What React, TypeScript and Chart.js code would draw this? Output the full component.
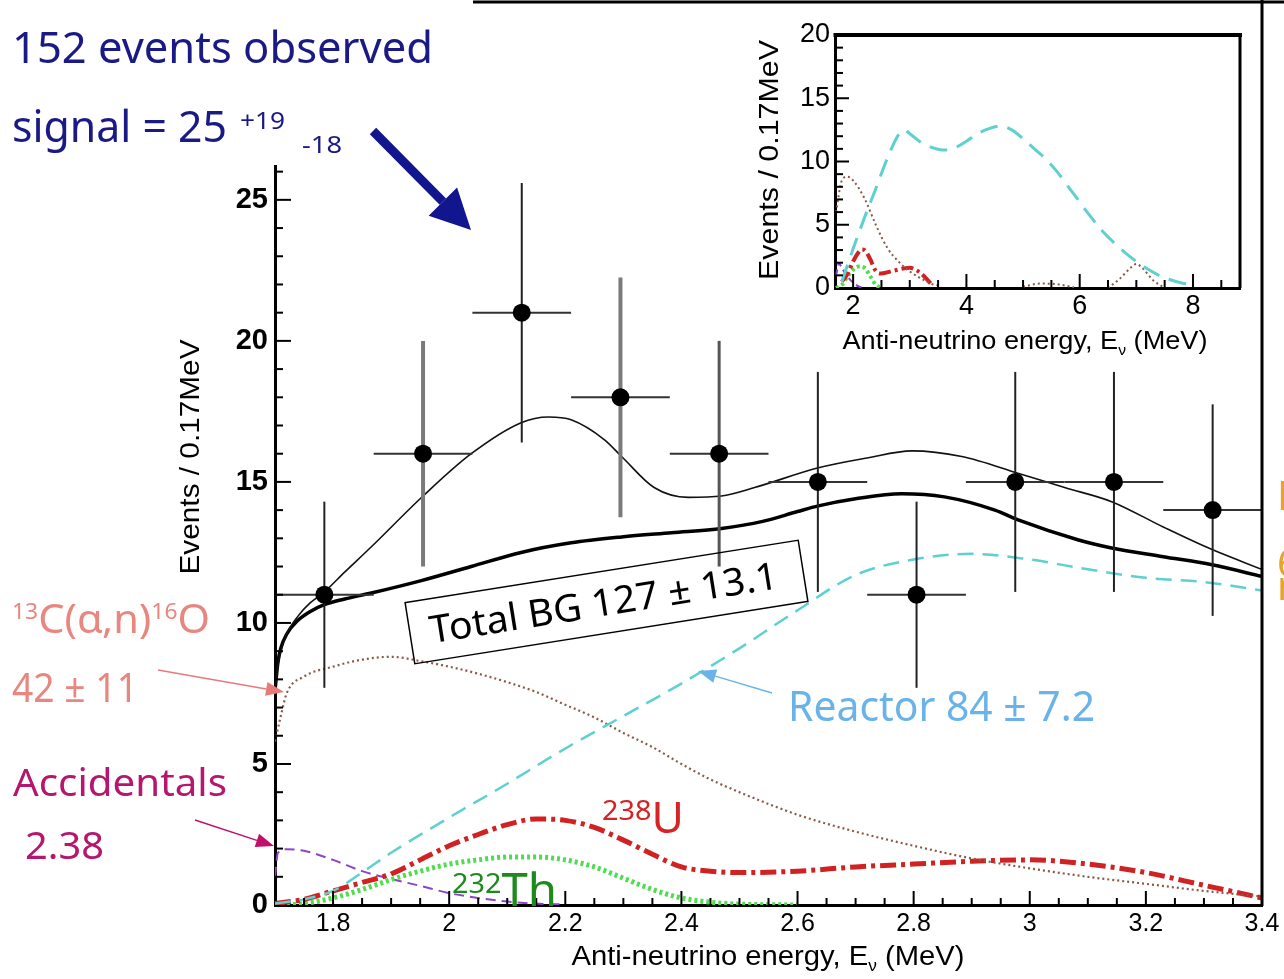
import React, { useEffect, useRef } from "react";
import { Chart, registerables } from "chart.js";
Chart.register(...registerables);

// ---------------- main panel data ----------------
const binCenters = [1.785, 1.955, 2.125, 2.295, 2.465, 2.635, 2.805, 2.975, 3.145, 3.315];
const observed = [11, 16, 21, 18, 16, 15, 11, 15, 15, 14];
const observedErr = [3.3, 4.0, 4.6, 4.25, 4.0, 3.9, 3.3, 3.9, 3.9, 3.75];
const binHalfWidth = 0.085;
const errBarColors = ["#222", "#7a7a7a", "#222", "#7a7a7a", "#555", "#222", "#222", "#222", "#222", "#222"];
const errBarWidths = [2, 4, 2, 4, 3, 2, 2, 2, 2, 2];

const totalX = [1.7, 1.705, 1.71, 1.72, 1.74, 1.76, 1.785, 1.82, 1.866, 1.955, 2.038, 2.124, 2.171, 2.21, 2.267, 2.297, 2.353, 2.412, 2.469, 2.526, 2.636, 2.72, 2.797, 2.883, 2.981, 3.06, 3.141, 3.23, 3.314, 3.4];
const totalY = [7.6, 8.5, 9.0, 9.6, 10.25, 10.7, 11.1, 11.8, 12.7, 14.5, 16.0, 17.1, 17.3, 17.2, 16.5, 15.9, 14.8, 14.45, 14.5, 14.8, 15.5, 15.85, 16.1, 15.9, 15.3, 14.8, 14.3, 13.4, 12.6, 11.9];

const bgX = [1.7, 1.705, 1.71, 1.72, 1.74, 1.76, 1.785, 1.82, 1.866, 1.952, 2.038, 2.124, 2.21, 2.297, 2.383, 2.469, 2.54, 2.6, 2.636, 2.7, 2.779, 2.853, 2.94, 2.98, 3.084, 3.141, 3.23, 3.314, 3.4];
const bgY = [7.6, 8.6, 9.1, 9.6, 10.1, 10.4, 10.65, 10.85, 11.06, 11.5, 12.0, 12.5, 12.84, 13.05, 13.2, 13.35, 13.6, 13.95, 14.15, 14.4, 14.58, 14.47, 14.0, 13.65, 12.94, 12.66, 12.35, 12.06, 11.65];

const reactorX = [1.7, 1.75, 1.8, 1.85, 1.9, 2.0, 2.1, 2.2, 2.3, 2.4, 2.5, 2.6, 2.7, 2.8, 2.9, 3.0, 3.1, 3.2, 3.3, 3.4];
const reactorY = [0.05, 0.2, 0.5, 1.15, 1.85, 3.1, 4.3, 5.55, 6.7, 7.85, 9.1, 10.45, 11.7, 12.25, 12.45, 12.25, 11.9, 11.6, 11.45, 11.15];

const c13X = [1.7, 1.71, 1.72, 1.75, 1.8, 1.85, 1.9, 1.95, 2.0, 2.05, 2.1, 2.15, 2.2, 2.25, 2.3, 2.35, 2.4, 2.45, 2.5, 2.6, 2.7, 2.8, 2.9, 3.0, 3.1, 3.2, 3.3, 3.4];
const c13Y = [5.8, 6.7, 7.5, 8.1, 8.45, 8.7, 8.8, 8.65, 8.45, 8.2, 7.9, 7.55, 7.1, 6.65, 6.1, 5.6, 5.0, 4.45, 4.0, 3.2, 2.6, 2.1, 1.65, 1.3, 1.0, 0.75, 0.5, 0.3];

const u238X = [1.7, 1.75, 1.8, 1.85, 1.9, 1.95, 2.0, 2.05, 2.1, 2.15, 2.2, 2.25, 2.3, 2.35, 2.4, 2.45, 2.5, 2.6, 2.7, 2.8, 2.9, 3.0, 3.1, 3.2, 3.3, 3.4];
const u238Y = [0.05, 0.2, 0.5, 0.8, 1.1, 1.6, 2.1, 2.5, 2.85, 3.05, 3.0, 2.75, 2.3, 1.8, 1.35, 1.2, 1.15, 1.2, 1.35, 1.45, 1.55, 1.6, 1.45, 1.15, 0.7, 0.25];

const th232X = [1.7, 1.75, 1.8, 1.85, 1.9, 1.95, 2.0, 2.05, 2.1, 2.15, 2.2, 2.25, 2.3, 2.35, 2.4, 2.45, 2.5, 2.6];
const th232Y = [0.0, 0.05, 0.25, 0.55, 0.9, 1.2, 1.45, 1.6, 1.7, 1.7, 1.6, 1.35, 0.95, 0.55, 0.25, 0.1, 0.03, 0.0];

const accX = [1.7, 1.705, 1.72, 1.75, 1.8, 1.85, 1.9, 1.95, 2.0, 2.05, 2.1, 2.15, 2.2];
const accY = [1.0, 1.85, 1.98, 1.92, 1.6, 1.2, 0.92, 0.68, 0.42, 0.25, 0.12, 0.05, 0.02];

const xTickValues = [1.8, 2, 2.2, 2.4, 2.6, 2.8, 3, 3.2, 3.4];
const xTickLabels = ["1.8", "2", "2.2", "2.4", "2.6", "2.8", "3", "3.2", "3.4"];
const yTickValues = [0, 5, 10, 15, 20, 25];
const yTickLabels = ["0", "5", "10", "15", "20", "25"];

// ---------------- inset data ----------------
const insetReactorX = [1.8, 1.9, 2.0, 2.2, 2.4, 2.6, 2.8, 2.9, 3.0, 3.2, 3.4, 3.6, 3.8, 4.0, 4.2, 4.4, 4.6, 4.8, 5.0, 5.2, 5.4, 5.6, 5.8, 6.0, 6.2, 6.4, 6.6, 6.8, 7.0, 7.2, 7.4, 7.6, 7.8, 8.0];
const insetReactorY = [0.5, 1.8, 3.1, 5.55, 7.85, 10.2, 12.1, 12.5, 12.2, 11.5, 11.1, 10.9, 11.1, 11.6, 12.2, 12.6, 12.8, 12.5, 11.8, 11.0, 10.2, 9.2, 8.0, 6.8, 5.6, 4.5, 3.6, 2.8, 2.1, 1.5, 1.0, 0.65, 0.4, 0.25];
const insetC13X = [1.7, 1.8, 1.9, 2.0, 2.2, 2.4, 2.6, 2.8, 3.0, 3.2, 3.4, 3.5];
const insetC13Y = [6.0, 8.5, 8.8, 8.5, 7.1, 5.0, 3.2, 2.1, 1.3, 0.75, 0.3, 0.2];
const insetC13BumpAX = [5.0, 5.3, 5.6, 5.9];
const insetC13BumpAY = [0.1, 0.35, 0.3, 0.05];
const insetC13BumpBX = [6.5, 6.7, 6.9, 7.0, 7.1, 7.3, 7.5];
const insetC13BumpBY = [0.0, 0.7, 1.6, 1.9, 1.6, 0.6, 0.0];
const insetU238X = [1.8, 1.9, 2.0, 2.1, 2.15, 2.2, 2.3, 2.4, 2.5, 2.7, 2.9, 3.0, 3.1, 3.2, 3.3, 3.4];
const insetU238Y = [0.5, 1.1, 2.1, 2.85, 3.05, 3.0, 2.3, 1.35, 1.15, 1.35, 1.55, 1.6, 1.45, 1.15, 0.7, 0.2];
const insetTh232X = [1.7, 1.8, 1.9, 2.0, 2.1, 2.2, 2.3, 2.4, 2.5];
const insetTh232Y = [0.0, 0.25, 0.9, 1.45, 1.7, 1.6, 0.95, 0.25, 0.03];
const insetAccX = [1.7, 1.75, 1.8, 1.9, 2.0, 2.1, 2.2];
const insetAccY = [1.0, 1.95, 1.6, 0.92, 0.42, 0.12, 0.02];

const insetXTickValues = [2, 4, 6, 8];
const insetXTickLabels = ["2", "4", "6", "8"];
const insetYTickValues = [0, 5, 10, 15, 20];
const insetYTickLabels = ["0", "5", "10", "15", "20"];

// ---------------- styles ----------------
const C_REACTOR = "#5fd0d0";
const C_C13 = "#8a5a48";
const C_U = "#d02222";
const C_TH = "#4fdc4f";
const C_ACC = "#8a45c8";
const HAND = "'Noto Sans', 'DejaVu Sans', sans-serif";
const SANS = "'Liberation Sans', Arial, sans-serif";

type Seg = { t: string; size: number; dy?: number; weight?: string; color?: string };

function drawRich(
  ctx: CanvasRenderingContext2D,
  segs: Seg[],
  x: number,
  y: number,
  o: { family: string; targetW?: number; align?: "left" | "center"; rot?: number; color?: string; baseline?: CanvasTextBaseline; weight?: string }
) {
  ctx.save();
  const fontOf = (s: Seg) => `${s.weight || o.weight || "normal"} ${s.size}px ${o.family}`;
  const widths = segs.map((s) => {
    ctx.font = fontOf(s);
    return ctx.measureText(s.t).width;
  });
  const total = widths.reduce((a, b) => a + b, 0);
  const sx = o.targetW ? o.targetW / total : 1;
  ctx.translate(x, y);
  if (o.rot) ctx.rotate(o.rot);
  ctx.scale(sx, 1);
  ctx.textBaseline = o.baseline || "alphabetic";
  ctx.textAlign = "left";
  let cx = o.align === "center" ? -total / 2 : 0;
  segs.forEach((s, i) => {
    ctx.font = fontOf(s);
    ctx.fillStyle = s.color || o.color || "#000";
    ctx.fillText(s.t, cx, s.dy || 0);
    cx += widths[i];
  });
  ctx.restore();
}

function drawArrow(
  ctx: CanvasRenderingContext2D,
  x1: number, y1: number, x2: number, y2: number,
  color: string, lw: number, headLen: number, headW: number
) {
  const a = Math.atan2(y2 - y1, x2 - x1);
  const bx = x2 - Math.cos(a) * headLen;
  const by = y2 - Math.sin(a) * headLen;
  ctx.save();
  ctx.strokeStyle = color;
  ctx.fillStyle = color;
  ctx.lineWidth = lw;
  ctx.setLineDash([]);
  ctx.beginPath();
  ctx.moveTo(x1, y1);
  ctx.lineTo(bx, by);
  ctx.stroke();
  ctx.beginPath();
  ctx.moveTo(x2, y2);
  ctx.lineTo(bx + Math.sin(a) * headW / 2, by - Math.cos(a) * headW / 2);
  ctx.lineTo(bx - Math.sin(a) * headW / 2, by + Math.cos(a) * headW / 2);
  ctx.closePath();
  ctx.fill();
  ctx.restore();
}

function line(ctx: CanvasRenderingContext2D, x1: number, y1: number, x2: number, y2: number) {
  ctx.beginPath();
  ctx.moveTo(x1, y1);
  ctx.lineTo(x2, y2);
  ctx.stroke();
}

const pts = (xs: number[], ys: number[]) => xs.map((x, i) => ({ x, y: ys[i] }));

const curve = (data: any, color: string, width: number, dash: number[], order = 2) => ({
  type: "line" as const,
  data,
  borderColor: color,
  borderWidth: width,
  borderDash: dash,
  borderCapStyle: "butt" as const,
  pointRadius: 0,
  fill: false,
  cubicInterpolationMode: "monotone" as const,
  tension: 0.4,
  order,
});

const mainDecor = {
  id: "mainDecor",
  afterDraw(chart: any) {
    const ctx: CanvasRenderingContext2D = chart.ctx;
    const xs = chart.scales.x;
    const ys = chart.scales.y;
    const { left, right, bottom } = chart.chartArea;
    ctx.save();
    ctx.strokeStyle = "#000";
    ctx.lineWidth = 2;
    for (let k = 35; k <= 67; k++) {
      const px = xs.getPixelForValue(k * 0.05);
      const len = k % 4 === 0 ? 14 : 7;
      line(ctx, px, bottom, px, bottom - len);
    }
    for (let v = 1; v <= 26; v++) {
      const py = ys.getPixelForValue(v);
      const len = v % 5 === 0 ? 16 : 8;
      line(ctx, left, py, left + len, py);
    }
    // slide frame
    ctx.lineWidth = 3;
    line(ctx, 473, 2, 1284, 2);
    line(ctx, right, 0, right, bottom + 1);

    // axis titles
    drawRich(ctx, [{ t: "Events / 0.17MeV", size: 28 }], 191, 457, { family: SANS, targetW: 235, align: "center", rot: -Math.PI / 2, baseline: "middle" });
    drawRich(ctx, [
      { t: "Anti-neutrino energy, E", size: 27 },
      { t: "ν", size: 16, dy: 6 },
      { t: " (MeV)", size: 27 },
    ], 768, 965, { family: SANS, targetW: 393, align: "center" });

    // headline texts
    const NAVY = "#1a1a86";
    drawRich(ctx, [{ t: "152 events observed", size: 44 }], 12, 63, { family: HAND, targetW: 421, color: NAVY });
    drawRich(ctx, [{ t: "signal = 25", size: 44 }], 12, 142, { family: HAND, targetW: 215, color: NAVY });
    drawRich(ctx, [{ t: "+19", size: 24 }], 240, 129, { family: HAND, targetW: 45, color: NAVY });
    drawRich(ctx, [{ t: "-18", size: 24 }], 302, 153, { family: HAND, targetW: 40, color: NAVY });
    drawArrow(ctx, 373, 131, 471, 230, "#11158e", 9, 40, 40);

    // 13C(a,n)16O
    const SALMON = "#e8877f";
    drawRich(ctx, [
      { t: "13", size: 22, dy: -14 },
      { t: "C(α,n)", size: 40 },
      { t: "16", size: 22, dy: -14 },
      { t: "O", size: 40 },
    ], 12, 633, { family: HAND, targetW: 198, color: SALMON });
    drawRich(ctx, [{ t: "42 ± 11", size: 40 }], 12, 702, { family: HAND, targetW: 126, color: SALMON });
    drawArrow(ctx, 158, 670, 284, 692, "#e87a7a", 1.5, 18, 14);

    // Accidentals
    const MAG = "#b5166e";
    drawRich(ctx, [{ t: "Accidentals", size: 38 }], 13, 796, { family: HAND, targetW: 214, color: MAG });
    drawRich(ctx, [{ t: "2.38", size: 38 }], 25, 859, { family: HAND, targetW: 79, color: MAG });
    drawArrow(ctx, 195, 820, 274, 846, "#c0106a", 1.5, 18, 14);

    // Total BG box
    ctx.save();
    ctx.translate(606.5, 602);
    ctx.rotate((-9 * Math.PI) / 180);
    ctx.strokeStyle = "#000";
    ctx.lineWidth = 1.5;
    ctx.strokeRect(-199, -31, 398, 62);
    ctx.restore();
    drawRich(ctx, [{ t: "Total BG 127 ± 13.1", size: 38 }], 604, 605, {
      family: HAND, targetW: 352, align: "center", rot: (-9 * Math.PI) / 180, baseline: "middle",
    });

    // Reactor
    drawRich(ctx, [{ t: "Reactor 84 ± 7.2", size: 42 }], 788, 721, { family: HAND, targetW: 307, color: "#6ab3e8" });
    drawArrow(ctx, 772, 693, 698, 671, "#6ab3e8", 1.5, 18, 14);

    // 238U
    drawRich(ctx, [
      { t: "238", size: 28 },
      { t: "U", size: 43, dy: 13 },
    ], 602, 820, { family: HAND, targetW: 82, color: "#d42424" });
    // 232Th
    drawRich(ctx, [
      { t: "232", size: 28 },
      { t: "Th", size: 46, dy: 13 },
    ], 452, 893, { family: HAND, targetW: 105, color: "#1e8a1e" });

    // clipped orange text at right edge
    const OR = "#eaa22c";
    drawRich(ctx, [{ t: "E", size: 40 }], 1277, 510, { family: HAND, color: OR });
    drawRich(ctx, [{ t: "6", size: 40 }], 1277, 577, { family: HAND, color: OR });
    drawRich(ctx, [{ t: "n", size: 40 }], 1277, 600, { family: HAND, color: OR });
    ctx.restore();
  },
};

const insetDecor = {
  id: "insetDecor",
  afterDraw(chart: any) {
    const ctx: CanvasRenderingContext2D = chart.ctx;
    const xs = chart.scales.x;
    const ys = chart.scales.y;
    const { left, right, top, bottom } = chart.chartArea;
    ctx.save();
    ctx.strokeStyle = "#000";
    ctx.lineWidth = 2;
    for (let k = 4; k <= 17; k++) {
      const px = xs.getPixelForValue(k * 0.5);
      const len = k % 4 === 0 ? 14 : 8;
      line(ctx, px, bottom, px, bottom - len);
    }
    for (let v = 1; v <= 19; v++) {
      const py = ys.getPixelForValue(v);
      const len = v % 5 === 0 ? 14 : 8;
      line(ctx, left, py, left + len, py);
    }
    ctx.lineWidth = 4;
    line(ctx, left - 1.5, top, right + 2, top);
    ctx.lineWidth = 3;
    line(ctx, right, top, right, bottom);
    drawRich(ctx, [{ t: "Events / 0.17MeV", size: 28 }], 70, 160, { family: SANS, targetW: 240, align: "center", rot: -Math.PI / 2, baseline: "middle" });
    drawRich(ctx, [
      { t: "Anti-neutrino energy, E", size: 26 },
      { t: "ν", size: 15, dy: 6 },
      { t: " (MeV)", size: 26 },
    ], 325, 349, { family: SANS, targetW: 365, align: "center" });
    ctx.restore();
  },
};

export default function App() {
  const mainRef = useRef<HTMLCanvasElement>(null);
  const insetRef = useRef<HTMLCanvasElement>(null);

  useEffect(() => {
    const mainDatasets: any[] = [
      {
        type: "scatter",
        data: pts(binCenters, observed),
        pointRadius: 9,
        pointBackgroundColor: "#000",
        pointBorderWidth: 0,
        showLine: false,
        order: 0,
      },
      ...binCenters.map((c, i) => ({
        type: "line",
        data: [
          { x: c, y: observed[i] - observedErr[i] },
          { x: c, y: observed[i] + observedErr[i] },
        ],
        borderColor: errBarColors[i],
        borderWidth: errBarWidths[i],
        pointRadius: 0,
        tension: 0,
        order: 1,
      })),
      ...binCenters.map((c, i) => ({
        type: "line",
        data: [
          { x: c - binHalfWidth, y: observed[i] },
          { x: c + binHalfWidth, y: observed[i] },
        ],
        borderColor: "#333",
        borderWidth: 2,
        pointRadius: 0,
        tension: 0,
        order: 1,
      })),
      curve(pts(totalX, totalY), "#111", 1.6, []),
      curve(pts(bgX, bgY), "#000", 3.5, []),
      curve(pts(reactorX, reactorY), C_REACTOR, 2.5, [16, 9], 3),
      curve(pts(c13X, c13Y), C_C13, 2.2, [2, 3], 3),
      curve(pts(u238X, u238Y), C_U, 5, [16, 5, 4, 5], 3),
      curve(pts(th232X, th232Y), C_TH, 5, [3, 3], 3),
      curve(pts(accX, accY), C_ACC, 2, [10, 6], 3),
    ];

    const main = new Chart(mainRef.current!, {
      type: "line",
      data: { datasets: mainDatasets },
      options: {
        responsive: false,
        maintainAspectRatio: false,
        devicePixelRatio: 1,
        animation: false,
        events: [],
        layout: { padding: { left: 0, top: 166, right: 22, bottom: 0 } },
        plugins: { legend: { display: false }, tooltip: { enabled: false } },
        scales: {
          x: {
            type: "linear",
            min: 1.7,
            max: 3.4,
            afterBuildTicks: (s: any) => {
              s.ticks = xTickValues.map((v) => ({ value: v }));
            },
            afterFit: (s: any) => {
              s.height = 74;
            },
            ticks: {
              callback: (_v: any, i: number) => xTickLabels[i],
              font: { family: SANS, size: 25 },
              color: "#000",
              padding: 4,
              maxRotation: 0,
              autoSkip: false,
            },
            grid: { display: true, drawOnChartArea: false, drawTicks: false },
            border: { display: true, color: "#000", width: 3 },
          },
          y: {
            type: "linear",
            min: 0,
            max: 26.2,
            afterBuildTicks: (s: any) => {
              s.ticks = yTickValues.map((v) => ({ value: v }));
            },
            afterFit: (s: any) => {
              s.width = 275;
            },
            ticks: {
              callback: (_v: any, i: number) => yTickLabels[i],
              font: { family: SANS, size: 29, weight: "bold" },
              color: "#000",
              padding: 7,
              autoSkip: false,
            },
            grid: { display: true, drawOnChartArea: false, drawTicks: false },
            border: { display: true, color: "#000", width: 3 },
          },
        },
      },
      plugins: [mainDecor],
    } as any);

    const insetDatasets: any[] = [
      curve(pts(insetReactorX, insetReactorY), C_REACTOR, 3, [18, 10]),
      curve(pts(insetC13X, insetC13Y), C_C13, 2, [2, 3]),
      curve(pts(insetC13BumpAX, insetC13BumpAY), C_C13, 2, [2, 3]),
      curve(pts(insetC13BumpBX, insetC13BumpBY), C_C13, 2, [2, 3]),
      curve(pts(insetU238X, insetU238Y), C_U, 4, [12, 4, 3, 4]),
      curve(pts(insetTh232X, insetTh232Y), C_TH, 4, [3, 3]),
      curve(pts(insetAccX, insetAccY), C_ACC, 2, [6, 4]),
    ];

    const inset = new Chart(insetRef.current!, {
      type: "line",
      data: { datasets: insetDatasets },
      options: {
        responsive: false,
        maintainAspectRatio: false,
        devicePixelRatio: 1,
        animation: false,
        events: [],
        layout: { padding: { left: 0, top: 35, right: 20, bottom: 0 } },
        plugins: { legend: { display: false }, tooltip: { enabled: false } },
        scales: {
          x: {
            type: "linear",
            min: 1.68,
            max: 8.83,
            afterBuildTicks: (s: any) => {
              s.ticks = insetXTickValues.map((v) => ({ value: v }));
            },
            afterFit: (s: any) => {
              s.height = 92;
            },
            ticks: {
              callback: (_v: any, i: number) => insetXTickLabels[i],
              font: { family: SANS, size: 27 },
              color: "#000",
              padding: 2,
              maxRotation: 0,
              autoSkip: false,
            },
            grid: { display: true, drawOnChartArea: false, drawTicks: false },
            border: { display: true, color: "#000", width: 3 },
          },
          y: {
            type: "linear",
            min: 0,
            max: 20,
            afterBuildTicks: (s: any) => {
              s.ticks = insetYTickValues.map((v) => ({ value: v }));
            },
            afterFit: (s: any) => {
              s.width = 135;
            },
            ticks: {
              callback: (_v: any, i: number) => insetYTickLabels[i],
              font: { family: SANS, size: 27 },
              color: "#000",
              padding: 5,
              autoSkip: false,
            },
            grid: { display: true, drawOnChartArea: false, drawTicks: false },
            border: { display: true, color: "#000", width: 3 },
          },
        },
      },
      plugins: [insetDecor],
    } as any);

    return () => {
      main.destroy();
      inset.destroy();
    };
  }, []);

  return (
    <div style={{ position: "absolute", left: 0, top: 0, width: 1284, height: 979, background: "#fff", overflow: "hidden" }}>
      <canvas ref={mainRef} width={1284} height={979} style={{ position: "absolute", left: 0, top: 0, width: 1284, height: 979 }} />
      <canvas ref={insetRef} width={560} height={380} style={{ position: "absolute", left: 700, top: 0, width: 560, height: 380 }} />
    </div>
  );
}
